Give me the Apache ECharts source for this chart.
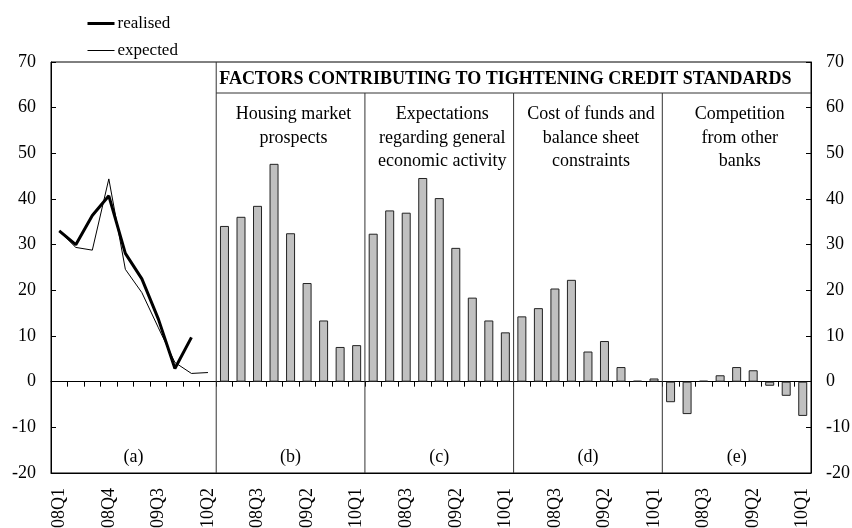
<!DOCTYPE html>
<html><head><meta charset="utf-8">
<script src="https://cdn.jsdelivr.net/npm/echarts@6/dist/echarts.min.js"></script>
<style>html,body{margin:0;padding:0;background:#fff}#c{width:852px;height:528px}</style>
</head><body><div id="c"></div>
<script>
// ---- data ----
const quartersA = ['2008Q1','2008Q2','2008Q3','2008Q4','2009Q1','2009Q2','2009Q3','2009Q4','2010Q1','2010Q2'];
const quartersB = ['2008Q1','2008Q2','2008Q3','2008Q4','2009Q1','2009Q2','2009Q3','2009Q4','2010Q1'];
const realised = [33.0, 30.0, 36.4, 40.7, 28.1, 22.5, 13.7, 2.9, 9.7, null];
const expected = [33.0, 29.4, 28.8, 44.4, 24.6, 19.5, 11.8, 4.2, 1.8, 2.0];
const housing = [34.1, 36.1, 38.5, 47.7, 32.5, 21.6, 13.4, 7.6, 8.0];
const expectations = [32.4, 37.5, 37.0, 44.6, 40.2, 29.3, 18.4, 13.4, 10.8];
const costFunds = [14.3, 16.1, 20.4, 22.3, 6.6, 8.9, 3.2, 0.2, 0.7];
const competition = [-4.5, -7.1, 0.2, 1.4, 3.2, 2.5, -0.9, -3.1, -7.5];
const panelLabels = ['(a)','(b)','(c)','(d)','(e)'];
const panelTitles = ['', 'Housing market\nprospects', 'Expectations\nregarding general\neconomic activity', 'Cost of funds and\nbalance sheet\nconstraints', 'Competition\nfrom other\nbanks'];
const headerText = 'FACTORS CONTRIBUTING TO TIGHTENING CREDIT STANDARDS';
const legendNames = ['realised', 'expected'];

// ---- build ----
const F = '"Liberation Serif", "Times New Roman", serif';
const FS = 18;
const factorSets = [housing, expectations, costFunds, competition];
const cats = quartersA.concat(quartersB, quartersB, quartersB, quartersB);
const pad = n => new Array(n).fill(null);
const barData = pad(quartersA.length).concat(...factorSets);
const realData = realised.concat(pad(cats.length - realised.length));
const expData = expected.concat(pad(cats.length - expected.length));
const panelStarts = [0];
let acc = quartersA.length;
factorSets.forEach(s => { panelStarts.push(acc); acc += s.length; });
panelStarts.push(acc);

const chart = echarts.init(document.getElementById('c'));
const yAxisBase = {
  type: 'value', min: -20, max: 70, interval: 10,
  axisLine: {show: true, lineStyle: {color: '#000', width: 1}},
  axisTick: {show: true, inside: true, length: 5, lineStyle: {color: '#000'}},
  axisLabel: {margin: 15, fontFamily: F, fontSize: FS, color: '#000'},
  splitLine: {show: false}
};
chart.setOption({
  animation: false,
  backgroundColor: '#fff',
  grid: {left: 51, right: 41, top: 62, bottom: 55, show: true, borderColor: '#000', borderWidth: 1,
         containLabel: false, outerBoundsMode: 'none'},
  legend: {
    data: [
      {name: legendNames[0], lineStyle: {width: 3, color: '#000'}},
      {name: legendNames[1], lineStyle: {width: 1, color: '#000'}}
    ],
    orient: 'vertical', left: 86, top: 15, padding: 0,
    itemWidth: 27, itemHeight: 14, itemGap: 10,
    itemStyle: {opacity: 0},
    textStyle: {fontFamily: F, fontSize: 17, color: '#000', padding: [0,0,0,-2]}
  },
  xAxis: [
    {type: 'category', data: cats, position: 'bottom',
     axisLine: {onZero: false, lineStyle: {color: '#000'}},
     axisTick: {show: false},
     axisLabel: {interval: 2, rotate: 90, margin: 15, fontFamily: F, fontSize: FS, color: '#000'},
     splitLine: {show: false}},
    {type: 'category', data: cats, position: 'top',
     axisLine: {onZero: true, lineStyle: {color: '#000'}},
     axisTick: {show: true, inside: true, length: 5, interval: 0, lineStyle: {color: '#000'}},
     axisLabel: {show: false}, splitLine: {show: false}}
  ],
  yAxis: [Object.assign({position: 'left'}, yAxisBase), Object.assign({position: 'right'}, yAxisBase)],
  series: [
    {type: 'bar', name: 'factors', data: barData, xAxisIndex: 0, yAxisIndex: 0, barWidth: 9,
     itemStyle: {color: '#c0c0c0', borderColor: '#222', borderWidth: 1}},
    {type: 'line', name: legendNames[0], data: realData, symbol: 'none', connectNulls: false,
     lineStyle: {color: '#000', width: 3}, itemStyle: {color: '#000'}, z: 5},
    {type: 'line', name: legendNames[1], data: expData, symbol: 'none', connectNulls: false,
     lineStyle: {color: '#000', width: 1}, itemStyle: {color: '#000'}, z: 4}
  ]
});

// ---- decorations positioned via the axes ----
const px = i => chart.convertToPixel({xAxisIndex: 0}, i);
const py = v => chart.convertToPixel({yAxisIndex: 0}, v);
const slot = px(1) - px(0);
const bound = k => k >= cats.length ? px(cats.length - 1) + slot / 2 : px(k) - slot / 2;
const topY = py(70), botY = py(-20);
const headerY = topY + 31;
const g = [];
const lineStyle = {stroke: '#333', lineWidth: 1};
g.push({type: 'line', shape: {x1: bound(panelStarts[1]), y1: topY, x2: bound(panelStarts[1]), y2: botY}, style: lineStyle, z: 10});
for (let k = 2; k < panelStarts.length - 1; k++) {
  g.push({type: 'line', shape: {x1: bound(panelStarts[k]), y1: headerY, x2: bound(panelStarts[k]), y2: botY}, style: lineStyle, z: 10});
}
g.push({type: 'line', shape: {x1: bound(panelStarts[1]), y1: headerY, x2: bound(cats.length), y2: headerY}, style: lineStyle, z: 10});
g.push({type: 'text', x: bound(panelStarts[1]) + 3, y: topY + 17,
  style: {text: headerText, font: 'bold ' + FS + 'px ' + F, fill: '#000', textAlign: 'left', textVerticalAlign: 'middle'}, z: 10});
for (let k = 0; k < panelLabels.length; k++) {
  const cx = (bound(panelStarts[k]) + bound(panelStarts[k + 1])) / 2;
  g.push({type: 'text', x: cx, y: py(-16.5),
    style: {text: panelLabels[k], font: FS + 'px ' + F, fill: '#000', textAlign: 'center', textVerticalAlign: 'middle'}, z: 10});
  if (panelTitles[k]) {
    g.push({type: 'text', x: cx + 3, y: 103,
      style: {text: panelTitles[k], font: FS + 'px ' + F, fill: '#000', textAlign: 'center', textVerticalAlign: 'top', lineHeight: 23.5}, z: 10});
  }
}
chart.setOption({graphic: g});
</script></body></html>
